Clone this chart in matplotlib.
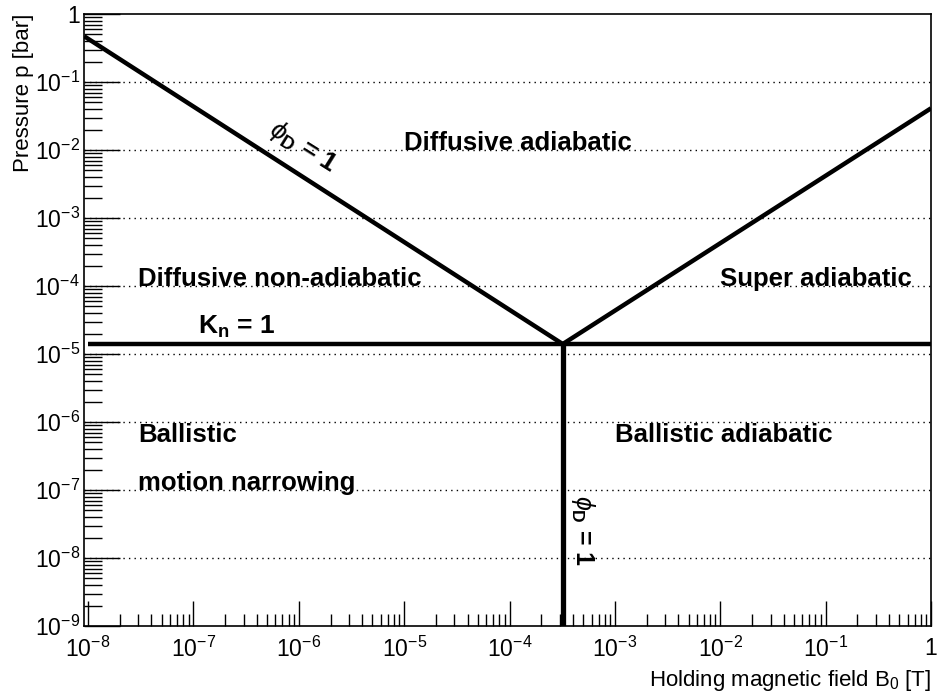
import matplotlib
matplotlib.use('Agg')
import matplotlib.pyplot as plt
from matplotlib.ticker import LogLocator, NullFormatter, FixedLocator, FixedFormatter

plt.rcParams['font.family'] = ['Liberation Sans', 'DejaVu Sans']
plt.rcParams['mathtext.fontset'] = 'custom'
plt.rcParams['mathtext.rm'] = 'Liberation Sans'
plt.rcParams['mathtext.it'] = 'Liberation Sans:italic'
plt.rcParams['mathtext.bf'] = 'Liberation Sans:bold'

# regime boundaries (B in T, p in bar)
phi_B = [9.2e-9, 3.2e-4]
phi_p = [0.47, 1.4e-5]
super_B = [3.2e-4, 1.0]
super_p = [1.4e-5, 0.041]
kn_B = [1.0e-8, 1.0]
kn_p = [1.4e-5, 1.4e-5]
vert_B = [3.2e-4, 3.2e-4]
vert_p = [1e-9, 1.4e-5]

# region labels
labels = ['Diffusive adiabatic', 'Diffusive non-adiabatic', 'Super adiabatic',
          'Ballistic', 'motion narrowing', 'Ballistic adiabatic']
label_B = [1e-5, 3e-8, 1e-2, 3e-8, 3e-8, 1e-3]
label_p = [1e-2, 1e-4, 1e-4, 5e-7, 1e-7, 5e-7]

x_ticks = [1e-8, 1e-7, 1e-6, 1e-5, 1e-4, 1e-3, 1e-2, 1e-1, 1]
x_ticklabels = ['$10^{-8}$', '$10^{-7}$', '$10^{-6}$', '$10^{-5}$', '$10^{-4}$',
                '$10^{-3}$', '$10^{-2}$', '$10^{-1}$', '1']
y_ticks = [1e-9, 1e-8, 1e-7, 1e-6, 1e-5, 1e-4, 1e-3, 1e-2, 1e-1, 1]
y_ticklabels = ['$10^{-9}$', '$10^{-8}$', '$10^{-7}$', '$10^{-6}$', '$10^{-5}$',
                '$10^{-4}$', '$10^{-3}$', '$10^{-2}$', '$10^{-1}$', '1']

fig = plt.figure(figsize=(9.38, 6.93), dpi=100)
ax = fig.add_axes([0.0896, 0.0967, 0.9029, 0.8831])

ax.set_xscale('log')
ax.set_yscale('log')
ax.set_xlim(9.16e-9, 1.0)
ax.set_ylim(1e-9, 1.0)

# horizontal dotted grid at the decades
for yv in y_ticks[1:-1]:
    ax.axhline(yv, color='black', lw=1, ls=(0, (1, 3)), zorder=1)

lw = 3.2
ax.plot(phi_B, phi_p, color='black', lw=lw, solid_capstyle='butt', zorder=3)
ax.plot(super_B, super_p, color='black', lw=lw, solid_capstyle='butt', zorder=3)
ax.plot(kn_B, kn_p, color='black', lw=lw, solid_capstyle='butt', zorder=3)
ax.plot(vert_B, vert_p, color='black', lw=lw + 0.6, solid_capstyle='butt', zorder=3)

for txt, bx, py in zip(labels, label_B, label_p):
    ax.text(bx, py, txt, fontsize=18.5, fontweight='bold', ha='left', va='baseline')

ax.text(1.1e-7, 2e-5, r'K$_{\mathbf{n}}$ = 1', fontsize=19, fontweight='bold',
        ha='left', va='baseline')
ax.text(5.1e-7, 1.8e-2, r'$\phi_{\mathbf{D}}$ = 1', fontsize=19, fontweight='bold',
        ha='left', va='baseline', rotation=-32, rotation_mode='anchor')
ax.text(4.3e-4, 8.5e-8, r'$\phi_{\mathbf{D}}$ = 1', fontsize=18, fontweight='bold',
        ha='left', va='baseline', rotation=-90, rotation_mode='anchor')

ax.xaxis.set_major_locator(FixedLocator(x_ticks))
ax.xaxis.set_major_formatter(FixedFormatter(x_ticklabels))
ax.yaxis.set_major_locator(FixedLocator(y_ticks))
ax.yaxis.set_major_formatter(FixedFormatter(y_ticklabels))
ax.xaxis.set_minor_locator(LogLocator(base=10, subs=range(2, 10), numticks=20))
ax.yaxis.set_minor_locator(LogLocator(base=10, subs=range(2, 10), numticks=20))
ax.xaxis.set_minor_formatter(NullFormatter())
ax.yaxis.set_minor_formatter(NullFormatter())

ax.tick_params(axis='both', which='both', direction='in', top=False, right=False,
               labelsize=16.5, width=1)
ax.tick_params(axis='x', which='major', length=18, pad=8)
ax.tick_params(axis='x', which='minor', length=9)
ax.tick_params(axis='y', which='major', length=26, pad=3)
ax.tick_params(axis='y', which='minor', length=13)

for s in ax.spines.values():
    s.set_linewidth(1.2)

ax.set_xlabel(r'Holding magnetic field B$_{0}$ [T]', fontsize=16, loc='right', labelpad=4)
ax.set_ylabel('Pressure p [bar]', fontsize=16, loc='top', labelpad=0.5)

fig.savefig('out.png', dpi=100)
